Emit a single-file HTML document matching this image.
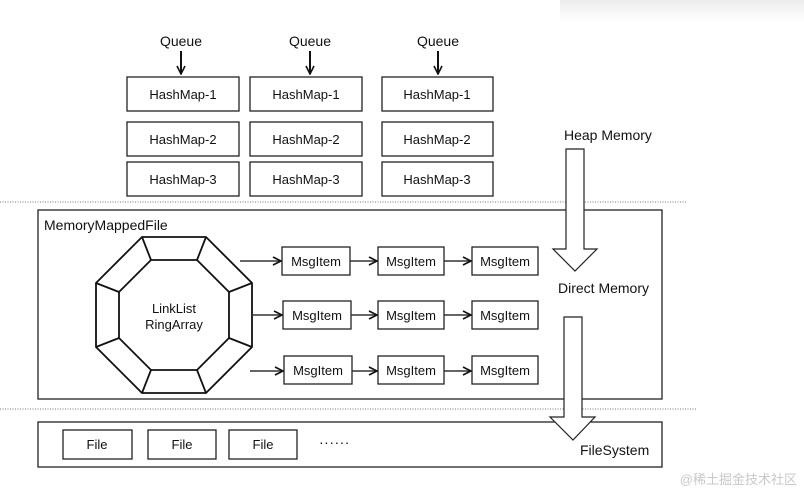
<!DOCTYPE html>
<html><head><meta charset="utf-8"><style>
html,body{margin:0;padding:0;background:#fff;}
svg text{font-family:"Liberation Sans",Arial,sans-serif;fill:#111;}
</style></head><body>
<svg width="804" height="494" viewBox="0 0 804 494" xmlns="http://www.w3.org/2000/svg">
<defs>
<linearGradient id="g" x1="0" y1="0" x2="0" y2="1"><stop offset="0" stop-color="#ececec"/><stop offset="1" stop-color="#fff"/></linearGradient>
<marker id="a" markerWidth="10" markerHeight="10" refX="9" refY="5" orient="auto" markerUnits="userSpaceOnUse"><path d="M1,1 L9,5 L1,9" fill="none" stroke="#111" stroke-width="1.6"/></marker>
</defs>
<rect x="560" y="0" width="244" height="22" fill="url(#g)"/>
<g font-size="14" text-anchor="middle">
<text x="181" y="46">Queue</text><text x="310" y="46">Queue</text><text x="438" y="46">Queue</text>
</g>
<g stroke="#111" stroke-width="2">
<line x1="181" y1="51" x2="181" y2="74" marker-end="url(#a)"/>
<line x1="310" y1="51" x2="310" y2="74" marker-end="url(#a)"/>
<line x1="438" y1="51" x2="438" y2="74" marker-end="url(#a)"/>
</g>
<g fill="#fff" stroke="#222" stroke-width="1.3">
<rect x="127" y="77" width="112" height="34"/><rect x="250" y="77" width="112" height="34"/><rect x="382" y="77" width="111" height="34"/>
<rect x="127" y="122" width="112" height="34"/><rect x="250" y="122" width="112" height="34"/><rect x="382" y="122" width="111" height="34"/>
<rect x="127" y="162" width="112" height="34"/><rect x="250" y="162" width="112" height="34"/><rect x="382" y="162" width="111" height="34"/>
</g>
<g font-size="13" text-anchor="middle">
<text x="183" y="99">HashMap-1</text><text x="306" y="99">HashMap-1</text><text x="437" y="99">HashMap-1</text>
<text x="183" y="144">HashMap-2</text><text x="306" y="144">HashMap-2</text><text x="437" y="144">HashMap-2</text>
<text x="183" y="184">HashMap-3</text><text x="306" y="184">HashMap-3</text><text x="437" y="184">HashMap-3</text>
</g>
<line x1="0" y1="202" x2="686" y2="202" stroke="#777" stroke-dasharray="1,1.5"/>
<line x1="0" y1="409" x2="696" y2="409" stroke="#777" stroke-dasharray="1,1.5"/>
<rect x="38" y="210" width="624" height="189" fill="#fff" stroke="#222" stroke-width="1.3"/>
<rect x="38" y="422" width="624" height="45" fill="#fff" stroke="#222" stroke-width="1.3"/>
<text x="44" y="230" font-size="14">MemoryMappedFile</text>
<g fill="none" stroke="#111" stroke-width="1.8">
<polygon points="142,237 206,237 252,283 252,347 206,393 142,393 96,347 96,283"/>
<polygon points="151,260 197,260 229,292 229,338 197,370 151,370 119,338 119,292"/>
<line x1="142" y1="237" x2="151" y2="260"/><line x1="206" y1="237" x2="197" y2="260"/>
<line x1="252" y1="283" x2="229" y2="292"/><line x1="252" y1="347" x2="229" y2="338"/>
<line x1="206" y1="393" x2="197" y2="370"/><line x1="142" y1="393" x2="151" y2="370"/>
<line x1="96" y1="347" x2="119" y2="338"/><line x1="96" y1="283" x2="119" y2="292"/>
</g>
<text x="174" y="313" font-size="13" text-anchor="middle">LinkList</text>
<text x="174" y="329" font-size="13" text-anchor="middle">RingArray</text>
<g fill="#fff" stroke="#222" stroke-width="1.3">
<rect x="282" y="247" width="68" height="28"/><rect x="378" y="247" width="66" height="28"/><rect x="472" y="247" width="66" height="28"/>
<rect x="283" y="301" width="68" height="28"/><rect x="378" y="301" width="66" height="28"/><rect x="472" y="301" width="66" height="28"/>
<rect x="284" y="356" width="68" height="28"/><rect x="378" y="356" width="66" height="28"/><rect x="472" y="356" width="66" height="28"/>
</g>
<g font-size="13" text-anchor="middle">
<text x="316" y="266">MsgItem</text><text x="411" y="266">MsgItem</text><text x="505" y="266">MsgItem</text>
<text x="317" y="320">MsgItem</text><text x="411" y="320">MsgItem</text><text x="505" y="320">MsgItem</text>
<text x="318" y="375">MsgItem</text><text x="411" y="375">MsgItem</text><text x="505" y="375">MsgItem</text>
</g>
<g stroke="#333" stroke-width="1.4">
<line x1="240" y1="261" x2="281" y2="261" marker-end="url(#a)"/><line x1="350" y1="261" x2="377" y2="261" marker-end="url(#a)"/><line x1="444" y1="261" x2="471" y2="261" marker-end="url(#a)"/>
<line x1="252" y1="315" x2="282" y2="315" marker-end="url(#a)"/><line x1="351" y1="315" x2="377" y2="315" marker-end="url(#a)"/><line x1="444" y1="315" x2="471" y2="315" marker-end="url(#a)"/>
<line x1="250" y1="371" x2="283" y2="371" marker-end="url(#a)"/><line x1="352" y1="371" x2="377" y2="371" marker-end="url(#a)"/><line x1="444" y1="371" x2="471" y2="371" marker-end="url(#a)"/>
</g>
<g fill="#fff" stroke="#222" stroke-width="1.3">
<rect x="63" y="430" width="69" height="29"/><rect x="148" y="430" width="68" height="29"/><rect x="229" y="430" width="68" height="29"/>
</g>
<g font-size="13" text-anchor="middle">
<text x="97" y="449">File</text><text x="182" y="449">File</text><text x="263" y="449">File</text>
</g>
<text x="319" y="447" font-size="14" letter-spacing="0.5">······</text>
<polygon points="566,149 584,149 584,249 597,249 575,271 553,249 566,249" fill="#fff" stroke="#222" stroke-width="1.2"/>
<polygon points="564,317 582,317 582,417 595,417 573,440 550,417 564,417" fill="#fff" stroke="#222" stroke-width="1.2"/>
<text x="564" y="140" font-size="14">Heap Memory</text>
<text x="558" y="293" font-size="14">Direct Memory</text>
<text x="580" y="455" font-size="14">FileSystem</text>
<text x="797" y="484" font-size="13" text-anchor="end" style="fill:#c8c8c8;font-family:'Liberation Sans','Noto Sans CJK SC',sans-serif">@稀土掘金技术社区</text>
</svg>
</body></html>
